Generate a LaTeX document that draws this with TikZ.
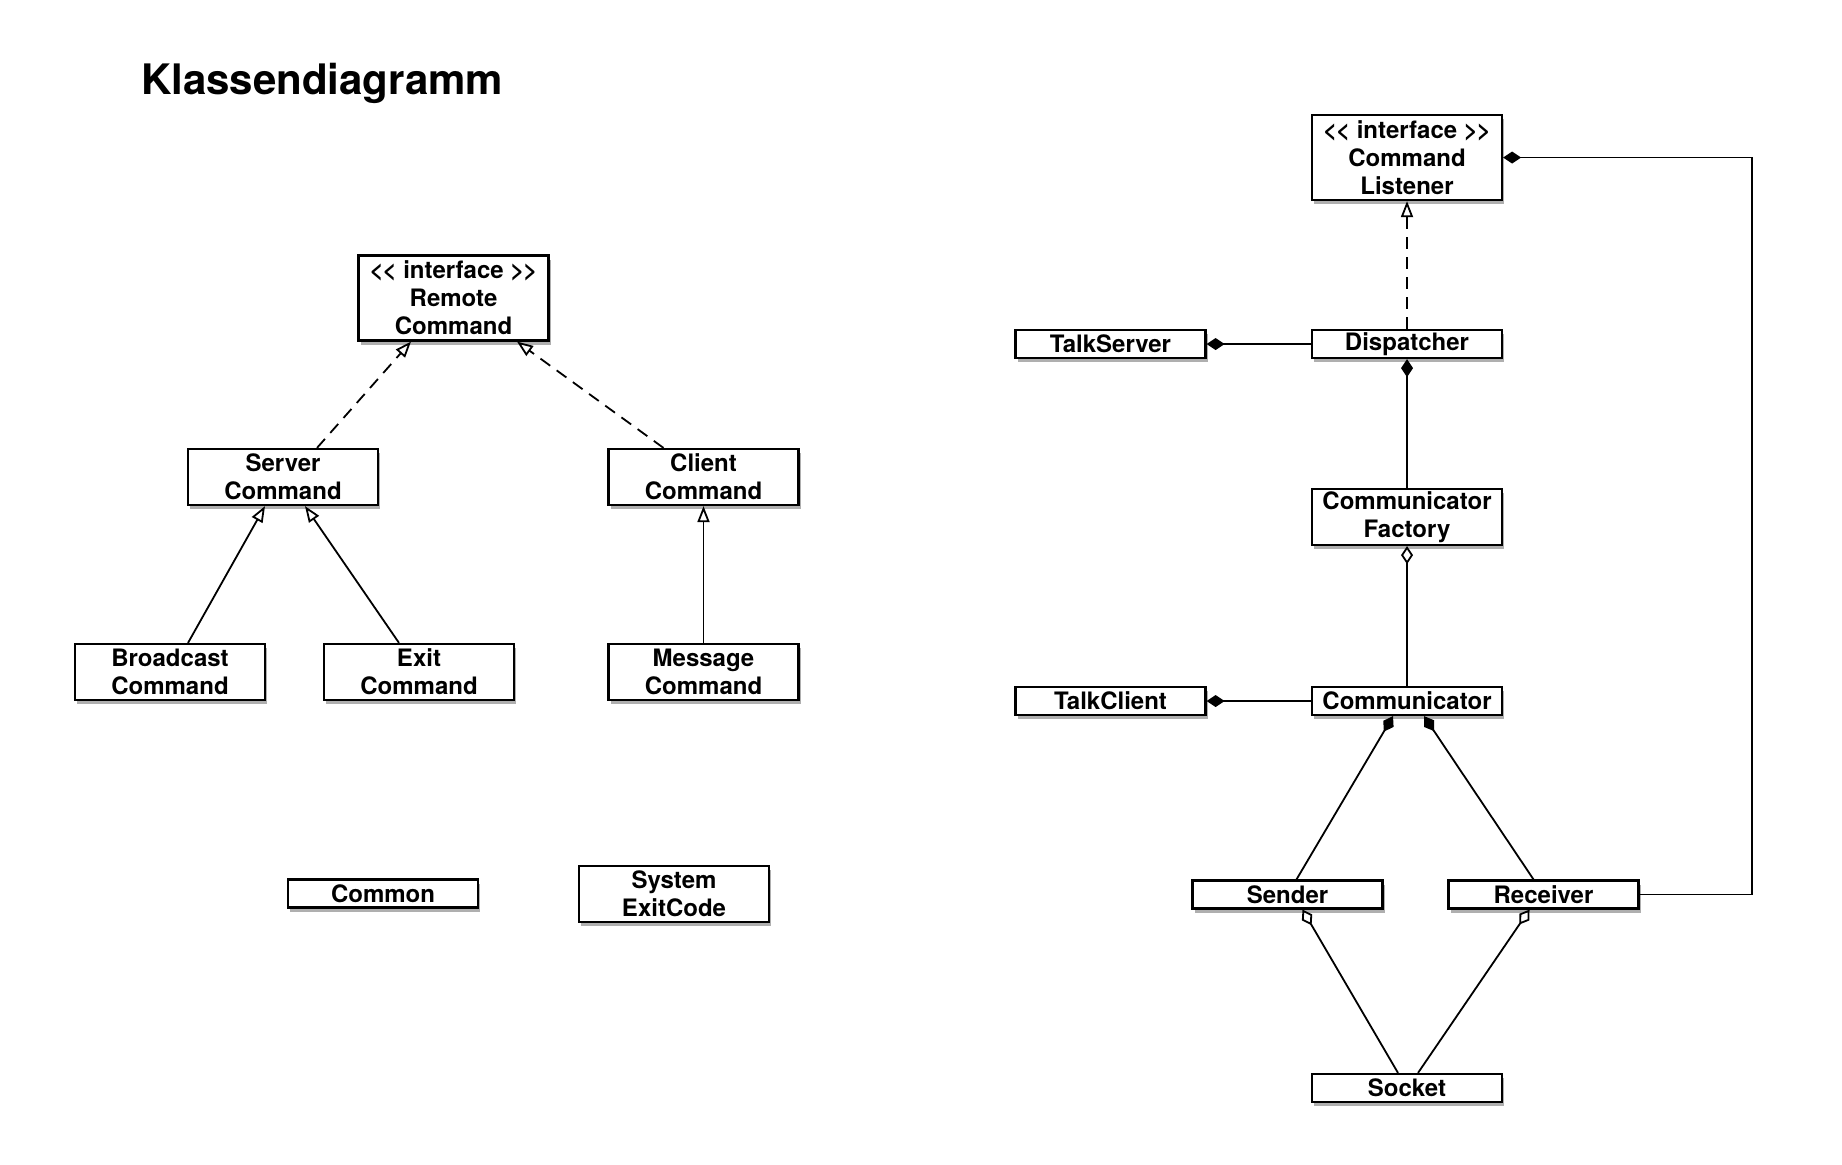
\documentclass[tikz,border=0pt]{standalone}
\usepackage{fontspec}
\setmainfont{TeX Gyre Heros}
\usetikzlibrary{arrows.meta,calc,shadows}
\definecolor{umlShadow}{HTML}{6E6E6E}
\tikzset{
  class node/.style={draw=black,fill=white,line width=1.1pt,minimum width=95pt,
    inner sep=0pt,align=center,font=\bfseries\fontsize{12}{14}\selectfont,
    drop shadow={shadow xshift=1.2pt,shadow yshift=-2pt,fill=umlShadow,opacity=0.55}},
  one line/.style={class node,minimum height=14pt},
  two line/.style={class node,minimum height=28pt},
  three line/.style={class node,minimum height=42.5pt},
  inherit arrow/.style={-{Triangle[open,length=8pt,width=6pt]},line width=0.9pt},
  realize arrow/.style={inherit arrow,dash pattern=on 6pt off 4pt},
  compose line/.style={{Diamond[length=9pt,width=6pt]}-,line width=0.9pt},
  aggregate line/.style={{Diamond[open,length=9pt,width=6pt]}-,line width=0.9pt}
}
\newcommand{\stereo}{<\kern-0.5pt< interface >\kern-0.5pt>}

\begin{document}
\begin{tikzpicture}[x=0.5pt,y=-0.5pt]
    \useasboundingbox (0,0) rectangle (1842,1164);
    \node[anchor=west,font=\bfseries\fontsize{21}{24}\selectfont] (title) at (134,83)
      {Klassendiagramm};
    % command hierarchy
    \node[three line] (remote) at (453.5,298) {\stereo\\Remote\\Command};
    \node[two line] (server) at (283,477) {Server\\Command};
    \node[two line] (client) at (703.5,477) {Client\\Command};
    \node[two line] (broadcast) at (170,672) {Broadcast\\Command};
    \node[two line] (exit) at (419,672) {Exit\\Command};
    \node[two line] (message) at (703.5,672) {Message\\Command};
    \node[one line] (common) at (383,893.5) {Common};
    \node[two line] (exitcode) at (674,894) {System\\ExitCode};
    % communication side
    \node[three line] (listener) at (1407,157.5) {\stereo\\Command\\Listener};
    \node[one line] (talkserver) at (1110.5,344) {TalkServer};
    \node[one line] (dispatcher) at (1407,344) {Dispatcher};
    \node[two line] (factory) at (1407,517) {Communicator\\Factory};
    \node[one line] (talkclient) at (1110.5,701) {TalkClient};
    \node[one line] (communicator) at (1407,701) {Communicator};
    \node[one line] (sender) at (1287.5,894.5) {Sender};
    \node[one line] (receiver) at (1543.5,894.5) {Receiver};
    \node[one line] (socket) at (1407,1088) {Socket};

    \draw[realize arrow] ($(server.north)+(34,0)$) -- ($(remote.south)+(-42.5,0)$);
    \draw[realize arrow] ($(client.north)+(-40,0)$) -- ($(remote.south)+(63.5,0)$);
    \draw[inherit arrow] ($(broadcast.north)+(18,0)$) -- ($(server.south)+(-18,0)$);
    \draw[inherit arrow] ($(exit.north)+(-20,0)$) -- ($(server.south)+(22,0)$);
    \draw[inherit arrow] (message) -- (client);

    \draw[realize arrow] (dispatcher) -- (listener);
    \draw[compose line] (talkserver) -- (dispatcher);
    \draw[compose line] (dispatcher) -- (factory);
    \draw[aggregate line] (factory) -- (communicator);
    \draw[compose line] (talkclient) -- (communicator);
    \draw[compose line] ($(communicator.south)+(-14,0)$) -- ($(sender.north)+(9,0)$);
    \draw[compose line] ($(communicator.south)+(17,0)$) -- ($(receiver.north)+(-10,0)$);
    \draw[aggregate line] ($(sender.south)+(15,0)$) -- ($(socket.north)+(-9,0)$);
    \draw[aggregate line] ($(receiver.south)+(-14,0)$) -- ($(socket.north)+(11,0)$);
    \draw[compose line] (listener.east) -| ($(receiver.east)+(112,0)$) -- (receiver.east);
  \end{tikzpicture}
\end{document}
